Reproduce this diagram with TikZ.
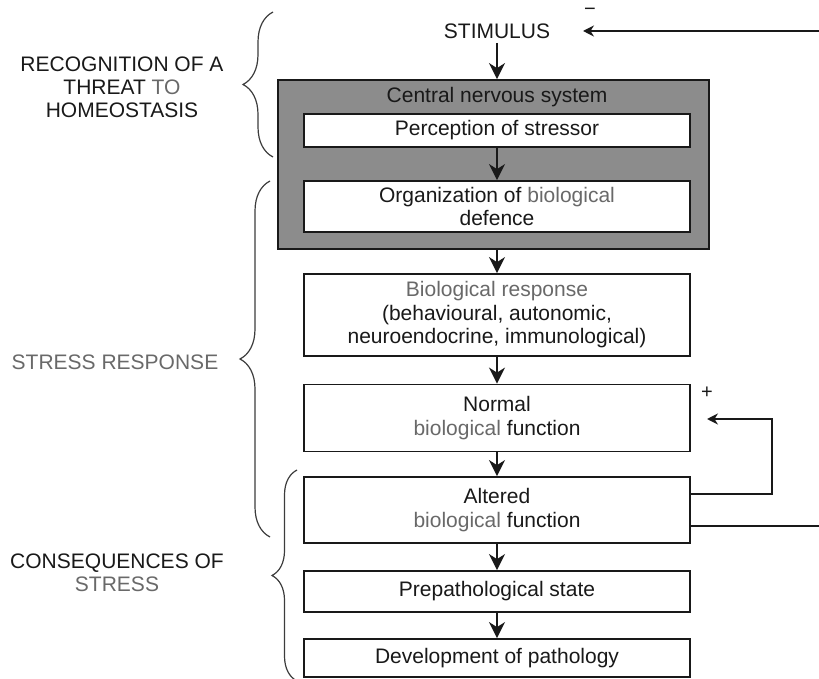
\documentclass[tikz,border=0pt]{standalone}
\usepackage{fontspec}
\setmainfont{Liberation Sans}
\usepackage{xcolor}
\usepackage{tikz}
\usetikzlibrary{arrows.meta, positioning, decorations.pathreplacing}
\definecolor{mydark}{RGB}{25,25,25}
\definecolor{mygray}{RGB}{105,105,105}
\definecolor{hdrgray}{RGB}{140,140,140}
\newcommand{\grey}[1]{\textcolor{mygray}{#1}}
\tikzset{
  box/.style={rectangle, draw=mydark, fill=white, minimum width=193pt,
    inner sep=2pt, align=center, text=mydark,
    font=\fontsize{10.5}{11.75}\selectfont, line width=0.9pt},
  cnsbox/.style={rectangle, draw=mydark, fill=hdrgray, minimum width=215.5pt,
    minimum height=84.5pt, line width=0.9pt},
  grouptext/.style={align=center, text=mydark, inner sep=2pt,
    font=\fontsize{10.5}{11.5}\selectfont},
  signtext/.style={text=mydark, inner sep=1pt, font=\fontsize{10}{11}\selectfont},
  arrow/.style={-{Stealth[length=8pt, width=8pt, inset=2.5pt]}, line width=1.1pt, color=mydark},
  fbarrow/.style={-{Stealth[length=5.5pt, width=5.5pt]}, line width=0.8pt, color=mydark},
  bracket/.style={decorate, decoration={brace, amplitude=#1},
    line width=0.6pt, color=mydark!85},
  bracket/.default=15pt
}

\begin{document}
\begin{tikzpicture}[x=0.5pt, y=-0.5pt]
  \clip (0,0) rectangle (819,679);
  % main column
  \node[grouptext] (stim) at (497,31) {STIMULUS};
  \node[cnsbox] (cns) at (493.5,164.5) {};
  \node[grouptext] (cnstitle) at (497,97) {Central nervous system};
  \node[box, minimum height=16.5pt] (perc) at (497,130.5) {Perception of stressor};
  \node[box, minimum height=25.5pt] (org) at (497,206.5) {Organization of \grey{biological}\\defence};
  \node[box, minimum height=41pt] (bio) at (497,315) {\grey{Biological response}\\(behavioural, autonomic,\\neuroendocrine, immunological)};
  \node[box, minimum height=33.5pt] (norm) at (497,418) {Normal\\\grey{biological} function};
  \node[box, minimum height=33pt] (alt) at (497,510) {Altered\\\grey{biological} function};
  \node[box, minimum height=20.5pt] (prep) at (497,591.5) {Prepathological state};
  \node[box, minimum height=19pt] (dev) at (497,658) {Development of pathology};
  \draw[arrow] (stim) -- (cns.north -| stim);
  \draw[arrow] (perc) -- (org);
  \draw[arrow] (cns.south -| bio) -- (bio);
  \draw[arrow] (bio) -- (norm);
  \draw[arrow] (norm) -- (alt);
  \draw[arrow] (alt) -- (prep);
  \draw[arrow] (prep) -- (dev);
  % feedback loops
  \coordinate (loopr) at (772,419);
  \coordinate (plusin) at (707,419);
  \coordinate (outr) at (850,300);
  \coordinate (negin) at (583,31);
  \draw[fbarrow] ([yshift=8pt]alt.east) -| (loopr) -- (plusin);
  \draw[fbarrow] ([yshift=-8pt]alt.east) -| (outr) |- (negin);
  \node[signtext] (plus) at (707,393) {+};
  \node[signtext] (minus) at (590,12) {−};
  % braces and phases
  \draw[bracket] (273,157) -- (273,12);
  \draw[bracket] (270,537) -- (270,181);
  \draw[bracket=12.5pt] (297,681) -- (297,470);
  \node[grouptext] (recog) at (122,87) {RECOGNITION OF A\\THREAT \grey{TO}\\HOMEOSTASIS};
  \node[grouptext, text=mygray] (resp) at (115,362) {STRESS RESPONSE};
  \node[grouptext] (conseq) at (117,573) {CONSEQUENCES OF\\\grey{STRESS}};
\end{tikzpicture}
\end{document}
